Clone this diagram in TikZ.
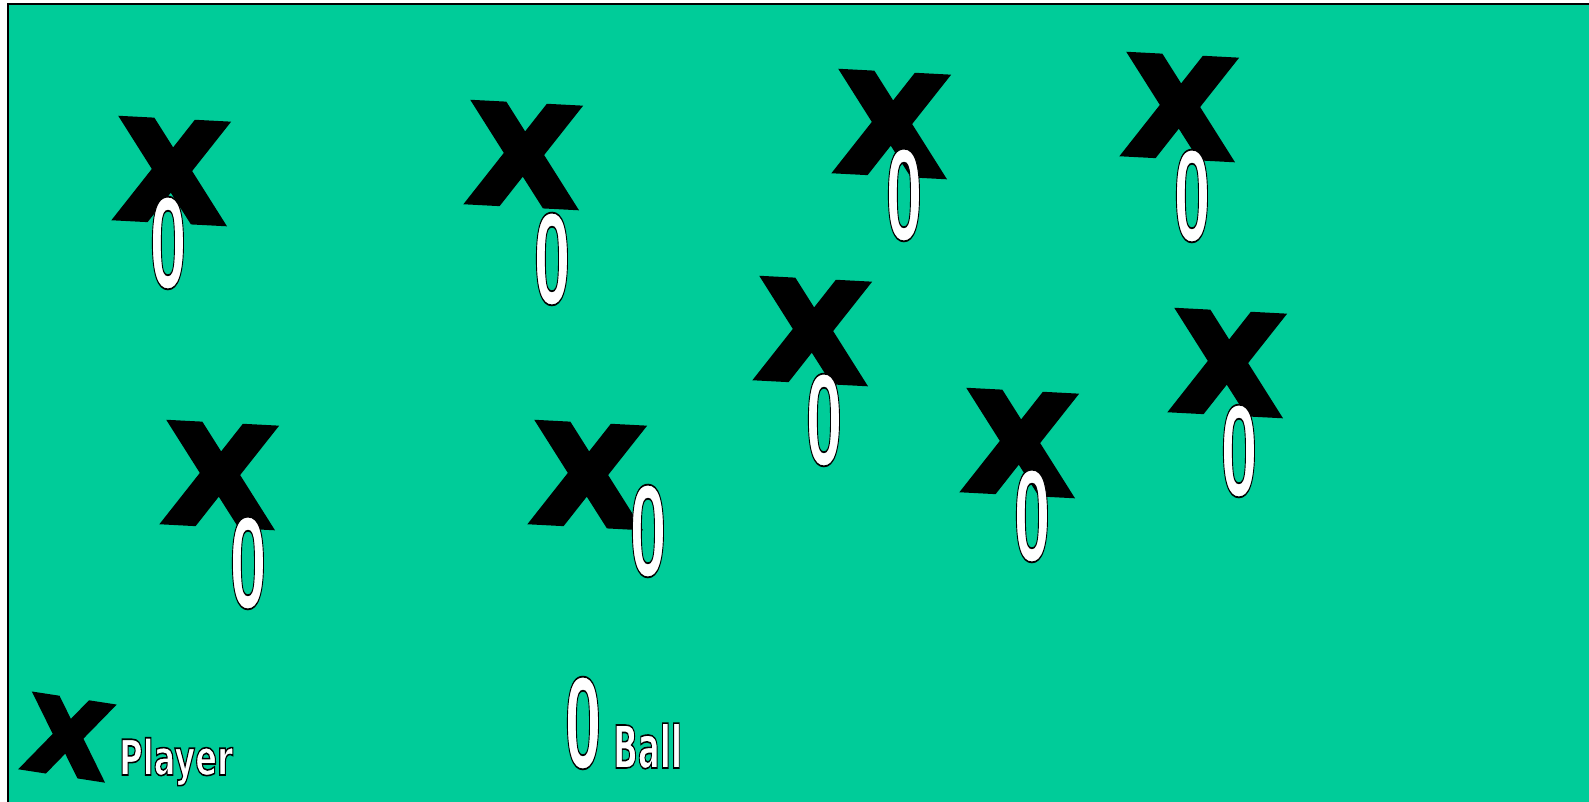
\documentclass[tikz,border=0pt]{standalone}
\usepackage{fontspec}
\usetikzlibrary{positioning}
\newfontfamily\xfont{DejaVu Sans}
\newfontfamily\markfont{Liberation Sans}
\definecolor{pitch}{HTML}{00CC99}
% filled letters with a black outline of width #1
\newcommand\edged[2]{\special{pdf:literal direct 0 G #1 w 0 j 2 Tr}#2\special{pdf:literal direct 0 Tr}}

\begin{document}
\begin{tikzpicture}[
			x=1pt,y=-1pt,
			player/.style={
				font=\xfont\bfseries\fontsize{134}{140}\selectfont,
				text=black,inner sep=0pt,rotate=-3,xscale=1.04
			},
			ball/.style={
				font=\markfont\bfseries\fontsize{131}{136}\selectfont,
				text=white,inner sep=0pt,xscale=0.5
			},
			legend/.style={
				font=\xfont\bfseries\fontsize{#1}{#1}\selectfont,
				text=white,inner sep=0pt,anchor=base west
			}
			]
			
			\useasboundingbox (0,0) rectangle (1589,802);
			\fill[pitch] (8,4) rectangle (1589,802);
			\draw[line width=2.4pt] (8,802) -- (8,4) -- (1589,4);
			
			% players
			\node[player] (p1) at (172,171) {\edged{7}{X}};
			\node[player] (p2) at (524,155) {\edged{7}{X}};
			\node[player] (p3) at (892,124) {\edged{7}{X}};
			\node[player] (p4) at (1180,107) {\edged{7}{X}};
			\node[player] (p5) at (813,331) {\edged{7}{X}};
			\node[player] (p6) at (1228,363) {\edged{7}{X}};
			\node[player] (p7) at (1020,443) {\edged{7}{X}};
			\node[player] (p8) at (220,475) {\edged{7}{X}};
			\node[player] (p9) at (588,475) {\edged{7}{X}};
			
			% balls
			\node[ball] (b1) at (168,243) {\edged{1.8}{0}};
			\node[ball] (b2) at (552,259) {\edged{1.8}{0}};
			\node[ball] (b3) at (904,195) {\edged{1.8}{0}};
			\node[ball] (b4) at (1192,196) {\edged{1.8}{0}};
			\node[ball] (b5) at (824,420) {\edged{1.8}{0}};
			\node[ball] (b6) at (1239,451) {\edged{1.8}{0}};
			\node[ball] (b7) at (1032,516) {\edged{1.8}{0}};
			\node[ball] (b8) at (248,563) {\edged{1.8}{0}};
			\node[ball] (b9) at (648,531) {\edged{1.8}{0}};
			
			% key
			\node[player,font=\xfont\bfseries\fontsize{100}{104}\selectfont,rotate=-6]
			(keyplayer) at (68,737) {\edged{6}{X}};
			\node[legend=49,xscale=0.655] (keyplayertext) at (119,775)
			{\edged{1.6}{Player}};
			
			\node[ball] (keyball) at (583,723) {\edged{1.8}{0}};
			\node[legend=59,xscale=0.55] (keyballtext) at (613,768)
			{\edged{1.6}{Ball}};
			
		\end{tikzpicture}
\end{document}
